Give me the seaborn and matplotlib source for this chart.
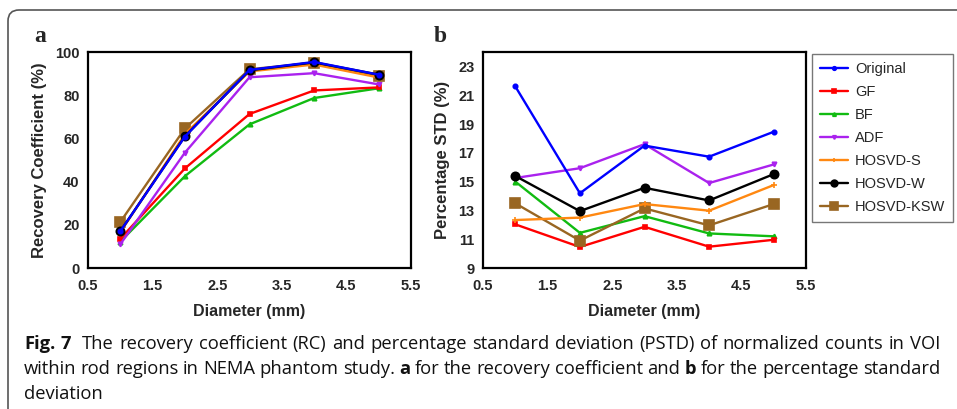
import matplotlib
matplotlib.use("Agg")
import matplotlib.pyplot as plt
import seaborn as sns
import numpy as np
import pandas as pd
from matplotlib.patches import FancyBboxPatch
from matplotlib.transforms import IdentityTransform

# ---------------- data ----------------
methods = ["Original", "GF", "BF", "ADF", "HOSVD-S", "HOSVD-W", "HOSVD-KSW"]
diameters = [1, 2, 3, 4, 5]

rc_original = [17.0, 60.8, 91.7, 95.4, 89.5]
rc_gf = [13.5, 46.1, 71.3, 82.2, 83.6]
rc_bf = [12.2, 42.5, 66.5, 78.7, 83.2]
rc_adf = [11.0, 53.4, 88.3, 90.2, 85.0]
rc_hosvd_s = [16.5, 62.0, 91.0, 94.2, 88.2]
rc_hosvd_w = [17.0, 61.0, 91.5, 95.2, 89.5]
rc_hosvd_ksw = [21.3, 64.6, 92.0, 95.0, 88.8]

pstd_original = [21.61, 14.19, 17.50, 16.73, 18.46]
pstd_gf = [12.03, 10.46, 11.86, 10.48, 10.96]
pstd_bf = [15.00, 11.44, 12.60, 11.40, 11.20]
pstd_adf = [15.25, 15.93, 17.60, 14.90, 16.19]
pstd_hosvd_s = [12.33, 12.50, 13.44, 12.98, 14.76]
pstd_hosvd_w = [15.39, 12.95, 14.57, 13.69, 15.52]
pstd_hosvd_ksw = [13.49, 10.90, 13.14, 11.96, 13.44]

x_ticks = [0.5, 1.5, 2.5, 3.5, 4.5, 5.5]
rc_ticks = [0, 20, 40, 60, 80, 100]
pstd_ticks = [9, 11, 13, 15, 17, 19, 21, 23]

rc_data = [rc_original, rc_gf, rc_bf, rc_adf, rc_hosvd_s, rc_hosvd_w, rc_hosvd_ksw]
pstd_data = [pstd_original, pstd_gf, pstd_bf, pstd_adf, pstd_hosvd_s, pstd_hosvd_w, pstd_hosvd_ksw]

# ---------------- styles ----------------
colors = ["#0000ff", "#ff0000", "#11bb11", "#aa22ee", "#ff8811", "#000000", "#996622"]
markers = ["o", "s", "^", "v", "+", "o", "s"]
msizes = [3.2, 3.2, 3.2, 3.2, 4.0, 6.0, 6.5]
zorders = [9, 4, 3, 5, 7, 8, 6]

sns.set_style("white")
plt.rcParams["font.family"] = ["Liberation Sans", "DejaVu Sans"]

W, H = 957, 409
fig = plt.figure(figsize=(W / 100, H / 100), dpi=100)
fig.patch.set_facecolor("white")

def px_axes(x0, x1, y0, y1):
    return fig.add_axes([x0 / W, 1 - y1 / H, (x1 - x0) / W, (y1 - y0) / H])

ax1 = px_axes(88, 411, 52, 268)
ax2 = px_axes(483, 806, 52, 268)

for ax, data in ((ax1, rc_data), (ax2, pstd_data)):
    for name, vals, c, m, ms, z in zip(methods, data, colors, markers, msizes, zorders):
        df = pd.DataFrame({"Diameter": diameters, "Value": vals})
        sns.lineplot(data=df, x="Diameter", y="Value", ax=ax, color=c, marker=m,
                     markersize=ms, markeredgecolor=c, markeredgewidth=1.2,
                     linewidth=1.7, label=name, zorder=z)
    if ax.get_legend() is not None:
        ax.get_legend().remove()

def style_axis(ax, yticks, ylim, ylabel):
    ax.set_xlim(0.5, 5.5)
    ax.set_ylim(*ylim)
    ax.set_xticks(x_ticks)
    ax.set_xticklabels([f"{t:.1f}" for t in x_ticks])
    ax.set_yticks(yticks)
    ax.set_yticklabels([str(t) for t in yticks])
    for lab in ax.get_xticklabels() + ax.get_yticklabels():
        lab.set_fontweight("bold")
        lab.set_fontsize(10.5)
    ax.tick_params(direction="out", length=4, width=1.5, color="black", pad=4)
    ax.tick_params(axis="y", pad=2)
    for s in ax.spines.values():
        s.set_linewidth(1.6)
        s.set_color("black")
    ax.set_xlabel("Diameter (mm)", fontsize=11.5, fontweight="bold", labelpad=8)
    ax.set_ylabel(ylabel, fontsize=12, fontweight="bold", labelpad=6)

style_axis(ax1, rc_ticks, (0, 100), "Recovery Coefficient (%)")
style_axis(ax2, pstd_ticks, (9, 24), "Percentage STD (%)")

handles, labels = ax2.get_legend_handles_labels()
leg = fig.legend(handles, labels, loc="upper left", bbox_to_anchor=(812 / W, 1 - 54 / H),
                 frameon=True, fancybox=False, edgecolor="#555555", fontsize=10.5,
                 handlelength=1.9, handletextpad=0.5, labelspacing=0.62,
                 borderpad=0.55, borderaxespad=0)
leg.get_frame().set_linewidth(1.0)
for lh in leg.legend_handles:
    lh.set_markersize(lh.get_markersize() * 0.8)

# panel letters
fig.text(40 / W, 1 - 37 / H, "a", fontsize=17, fontweight="bold",
         family=["Liberation Serif", "DejaVu Serif"], ha="center", va="center")
fig.text(440 / W, 1 - 37 / H, "b", fontsize=17, fontweight="bold",
         family=["Liberation Serif", "DejaVu Serif"], ha="center", va="center")

# frame with rounded corner
frame = FancyBboxPatch((8, -30), 1100, 399 + 30, boxstyle="round,pad=0,rounding_size=11",
                       transform=IdentityTransform(), facecolor="none",
                       edgecolor="#555555", linewidth=1.2, clip_on=False)
fig.patches.append(frame)

# ---------------- caption ----------------
cap_family = ["Open Sans", "DejaVu Sans"]
line1 = [("Fig. 7", True), ("The recovery coefficient (RC) and percentage standard deviation (PSTD) of normalized counts in VOI", False)]
line2 = [("within rod regions in NEMA phantom study.", False), ("a", True),
         ("for the recovery coefficient and", False), ("b", True),
         ("for the percentage standard", False)]
line3 = [("deviation", False)]

renderer = fig.canvas.get_renderer()

def text_width(s, size, bold):
    t = fig.text(0, 0, s, fontsize=size, family=cap_family, fontweight="bold" if bold else "normal")
    w = t.get_window_extent(renderer).width
    t.remove()
    return w

def to_words(pieces):
    words = []
    for i, (s, b) in enumerate(pieces):
        for j, wd in enumerate(s.split(" ")):
            gap = 2.0 if (i == 1 and j == 0 and pieces is line1) else 1.0
            words.append((wd, b, gap if (i > 0 and j == 0) else (1.0 if words else 0.0)))
    return words

def space_width(size):
    return text_width("a a", size, False) - text_width("aa", size, False)

def natural_width(words, size):
    sp = space_width(size)
    return sum(text_width(w, size, b) for w, b, _ in words) + sp * sum(g for _, _, g in words)

words1, words2, words3 = to_words(line1), to_words(line2), to_words(line3)
TARGET = 916.0
base = 12.0
wmax = max(natural_width(words1, base), natural_width(words2, base))
cap_size = base * TARGET / wmax

def draw_words(words, x0, yc, size, justify):
    widths = [text_width(w, size, b) for w, b, _ in words]
    gaps = [g for _, _, g in words]
    sp = space_width(size)
    if justify:
        sp = (TARGET - sum(widths)) / sum(gaps)
    x = x0
    for (w, b, g), wd in zip(words, widths):
        x += g * sp
        fig.text(x / W, 1 - yc / H, w, fontsize=size, family=cap_family,
                 fontweight="bold" if b else "normal", ha="left", va="baseline",
                 color="#111111")
        x += wd

draw_words(words1, 24, 349, cap_size, True)
draw_words(words2, 24, 374, cap_size, True)
draw_words(words3, 24, 399, cap_size, False)

fig.savefig("out.png", dpi=100)
